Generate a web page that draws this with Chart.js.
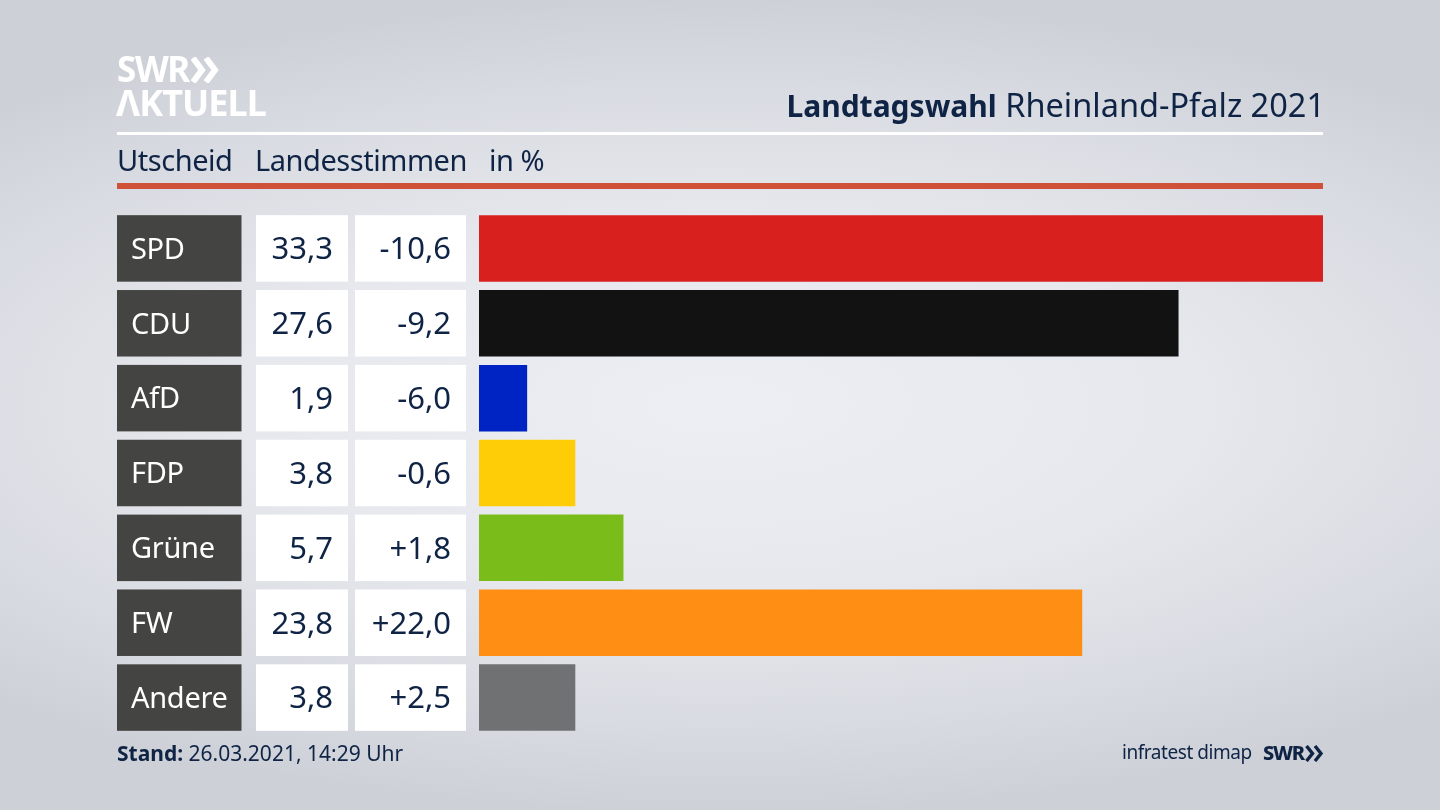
<!DOCTYPE html>
<html lang="de">
<head>
<meta charset="utf-8">
<title>Landtagswahl Rheinland-Pfalz 2021</title>
<script src="https://cdn.jsdelivr.net/npm/chart.js@4"></script>
<style>
  html, body { margin: 0; width: 1440px; height: 810px; overflow: hidden; }
  body {
    position: relative;
    font-family: "Noto Sans", sans-serif;
    color: #0f2345;
    background: radial-gradient(ellipse 1050px 410px at 50% 50%, #eceef3 0%, #e6e8ed 45%, #d8dbe1 78%, #cdd1d7 100%);
  }
  canvas { position: absolute; left: 0; top: 0; }
  .txt { position: absolute; white-space: nowrap; line-height: 1; }
  .rule { position: absolute; left: 117px; width: 1206px; }
  .head { top: 145px; font-size: 29px; letter-spacing: -.45px; }
  b { font-weight: 700; }
</style>
</head>
<body>
<canvas id="wahlChart" width="1440" height="810"></canvas>

<div class="txt" style="left:117px;top:51px;font-size:35px;font-weight:700;color:#fff;letter-spacing:-1.4px">SWR</div>
<svg style="position:absolute;left:191px;top:57px" width="30" height="26" viewBox="0 0 30 26">
  <path d="M2 1 L11 13 L2 25 M15 1 L24 13 L15 25" fill="none" stroke="#fff" stroke-width="6"/>
</svg>
<div class="txt" style="left:116px;top:85px;font-size:36px;font-weight:700;color:#fff;letter-spacing:-.9px">ΛKTUELL</div>

<div class="txt" style="right:115px;top:89px;font-size:32.5px"><b style="font-size:30px">Landtagswahl</b> Rheinland-Pfalz 2021</div>
<div class="rule" style="top:132px;height:3px;background:#fff"></div>
<div class="txt head" style="left:117px">Utscheid</div>
<div class="txt head" style="left:255px">Landesstimmen</div>
<div class="txt head" style="left:489px">in %</div>
<div class="rule" style="top:183px;height:6px;background:#cf5238"></div>

<div class="txt" style="left:117px;top:743px;font-size:21px"><b>Stand:</b> 26.03.2021, 14:29 Uhr</div>
<div class="txt" style="left:1122px;top:743px;font-size:19px;letter-spacing:-.45px">infratest dimap</div>
<div class="txt" style="left:1263px;top:743px;font-size:20px;font-weight:800;letter-spacing:-1.2px">SWR</div>
<svg style="position:absolute;left:1305px;top:745px" width="19" height="17" viewBox="0 0 19 17">
  <path d="M1.5 1 L7.5 8.5 L1.5 16 M10 1 L16 8.5 L10 16" fill="none" stroke="#0f2345" stroke-width="3.4"/>
</svg>

<script>
const parties = ["SPD", "CDU", "AfD", "FDP", "Grüne", "FW", "Andere"];
const shares = [33.3, 27.6, 1.9, 3.8, 5.7, 23.8, 3.8];
const shareLabels = ["33,3", "27,6", "1,9", "3,8", "5,7", "23,8", "3,8"];
const changeLabels = ["-10,6", "-9,2", "-6,0", "-0,6", "+1,8", "+22,0", "+2,5"];
const partyColors = ["#d8201f", "#121212", "#0023c4", "#ffcd07", "#7abd1a", "#ff8e14", "#707172"];

const BAR_HEIGHT = 66.5;

// Tabelle links neben den Balken, an den Zeilen der y-Achse ausgerichtet
const rowCells = {
    id: "rowCells",
    afterDatasetsDraw(chart) {
        const { ctx, scales } = chart;
        ctx.save();
        ctx.textBaseline = "middle";
        parties.forEach((party, i) => {
            const mid = scales.y.getPixelForValue(i);
            const top = mid - BAR_HEIGHT / 2;

            ctx.fillStyle = "#444442";
            ctx.fillRect(117, top, 124.5, BAR_HEIGHT);
            ctx.fillStyle = "#ffffff";
            ctx.fillRect(256, top, 92, BAR_HEIGHT);
            ctx.fillRect(355, top, 111, BAR_HEIGHT);

            ctx.font = '29px "Noto Sans", sans-serif';
            ctx.letterSpacing = "-0.3px";
            ctx.textAlign = "left";
            ctx.fillText(party, 131, mid + 2);

            ctx.font = '31px "Noto Sans", sans-serif';
            ctx.letterSpacing = "0px";
            ctx.textAlign = "right";
            ctx.fillStyle = "#0f2345";
            ctx.fillText(shareLabels[i], 333, mid + 2);
            ctx.fillText(changeLabels[i], 451, mid + 2);
        });
        ctx.restore();
    },
};

new Chart(document.getElementById("wahlChart").getContext("2d"), {
    type: "bar",
    data: {
        labels: parties,
        datasets: [
            {
                data: shares,
                backgroundColor: partyColors,
                borderWidth: 0,
                categoryPercentage: 1,
                barPercentage: 0.888,
            },
        ],
    },
    options: {
        indexAxis: "y",
        responsive: false,
        animation: false,
        layout: { padding: { left: 479, right: 117, top: 211, bottom: 75 } },
        plugins: { legend: { display: false }, tooltip: { enabled: false } },
        scales: {
            x: { display: false, min: 0, max: 33.3 },
            y: { display: false },
        },
    },
    plugins: [rowCells],
});
</script>
</body>
</html>
